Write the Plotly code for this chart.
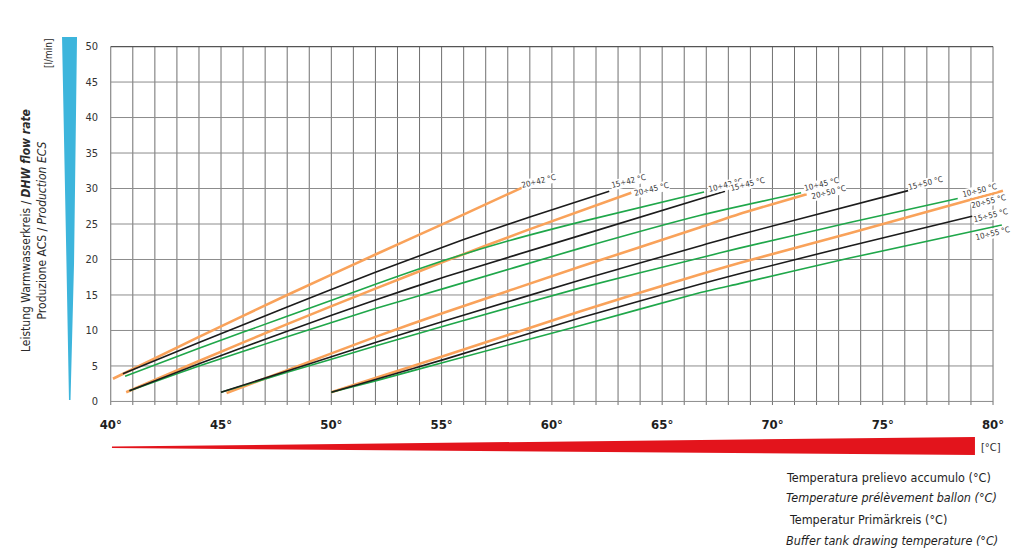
import plotly.graph_objects as go

# curve data (x = buffer tank temperature °C, y = l/min)
labels = ["20÷42 °C", "15÷42 °C", "10÷42 °C",
          "20÷45 °C", "15÷45 °C", "10÷45 °C",
          "20÷50 °C", "15÷50 °C", "10÷50 °C",
          "20÷55 °C", "15÷55 °C", "10÷55 °C"]
kinds = ["20", "15", "10"] * 4

x_20_42 = [40.1, 44, 48, 52, 55.2, 58.7]
y_20_42 = [3.2, 9.1, 15.0, 20.7, 25.2, 30.2]
x_15_42 = [40.55, 44, 48, 52, 56, 59, 62.6]
y_15_42 = [3.9, 8.3, 13.3, 18.2, 22.8, 26.0, 29.6]
x_10_42 = [40.65, 44, 48, 52, 55.2, 58, 61.3, 66.9]
y_10_42 = [3.55, 7.5, 12.0, 16.5, 19.95, 22.6, 25.3, 29.5]

x_20_45 = [40.7, 44, 48, 52, 55.2, 58.85, 63.6]
y_20_45 = [1.3, 5.7, 10.9, 15.9, 19.8, 24.1, 29.4]
x_15_45 = [40.85, 44, 48, 52, 55.2, 61.3, 67.85]
y_15_45 = [1.5, 5.3, 9.9, 14.3, 17.6, 23.4, 29.6]
x_10_45 = [40.85, 44, 48, 52, 55.2, 61.3, 66.7, 71.3]
y_10_45 = [1.5, 5.0, 9.1, 13.1, 16.0, 21.6, 26.2, 29.4]

x_20_50 = [45.25, 48, 52, 55.2, 61.3, 66.7, 68.5, 71.55]
y_20_50 = [1.2, 4.4, 9.1, 12.6, 19.0, 24.5, 26.4, 29.2]
x_15_50 = [45.0, 48, 52, 55.2, 61.3, 66.7, 68.5, 76.15]
y_15_50 = [1.3, 4.3, 8.3, 11.4, 17.1, 21.9, 23.5, 29.7]
x_10_50 = [45.0, 48, 52, 55.2, 61.3, 66.7, 68.5, 73.5, 78.4]
y_10_50 = [1.3, 4.1, 7.8, 10.7, 16.0, 20.2, 21.6, 25.2, 28.6]

x_20_55 = [50.0, 52, 55.2, 61.3, 66.7, 68.5, 73.5, 80.45]
y_20_55 = [1.3, 3.3, 6.5, 12.7, 17.9, 19.5, 23.7, 29.7]
x_15_55 = [50.0, 52, 55.2, 61.3, 66.7, 68.5, 73.5, 80.4]
y_15_55 = [1.3, 3.1, 6.0, 11.8, 16.5, 18.0, 21.9, 27.1]
x_10_55 = [50.0, 52, 55.2, 61.3, 66.7, 68.5, 73.5, 80.4]
y_10_55 = [1.3, 2.9, 5.6, 10.7, 15.3, 16.6, 20.2, 24.85]

xs = [x_20_42, x_15_42, x_10_42, x_20_45, x_15_45, x_10_45,
      x_20_50, x_15_50, x_10_50, x_20_55, x_15_55, x_10_55]
ys = [y_20_42, y_15_42, y_10_42, y_20_45, y_15_45, y_10_45,
      y_20_50, y_15_50, y_10_50, y_20_55, y_15_55, y_10_55]

x_ticks = [40, 45, 50, 55, 60, 65, 70, 75, 80]
x_ticktext = ["40°", "45°", "50°", "55°", "60°", "65°", "70°", "75°", "80°"]
y_ticks = [0, 5, 10, 15, 20, 25, 30, 35, 40, 45, 50]
x_grid = list(range(40, 81))

# style
colors = {"20": "#f9a25a", "15": "#1c1c1c", "10": "#1fa74a"}
widths = {"20": 2.6, "15": 1.6, "10": 1.6}
# label offsets (px) from the end of each curve
label_shift = [(15, 6), (19, 10), (21, 7), (20, 3), (22, 7), (20, 8),
               (22, 2), (17, 7), (22, 8), (-14, -11), (-11, -6), (-9, -8)]

FONT = "Liberation Sans Narrow, DejaVu Sans Condensed, Arial Narrow, sans-serif"

# the page body has an 8px margin, so the figure sits at (8, 8) in the window
OFF = 8
FW, FH = 1024 - 2 * OFF, 560 - 2 * OFF
L, R, T, B = 99, 6, 35, 147
W, H = FW - L - R, FH - T - B


def px(x):
    # window pixel -> paper coordinate
    return (x - OFF - L) / W


def py(y):
    return (FH - B - (y - OFF)) / H


fig = go.Figure()

order = [i for k in ("20", "10", "15") for i in range(12) if kinds[i] == k]
for i in order:
    k = kinds[i]
    fig.add_trace(go.Scatter(
        x=xs[i], y=ys[i], mode="lines", name=labels[i],
        line=dict(color=colors[k], width=widths[k], shape="spline", smoothing=0.6),
        showlegend=False, hoverinfo="skip"))

shapes = []
for g in x_grid:
    shapes.append(dict(type="line", xref="x", yref="y", x0=g, x1=g, y0=-0.6, y1=50,
                       line=dict(color="#707070", width=1), layer="below"))
for g in y_ticks:
    shapes.append(dict(type="line", xref="x", yref="y", x0=40, x1=80, y0=g, y1=g,
                       line=dict(color="#555555" if g == 50 else "#8c8c8c", width=1.3 if g == 50 else 1),
                       layer="below"))

# blue wedge on the left
blue = [(62, 37), (77, 37), (74, 263), (70.5, 400), (69, 400), (66.5, 263)]
shapes.append(dict(type="path", xref="paper", yref="paper",
                   path="M " + " L ".join(f"{px(a):.4f},{py(b):.4f}" for a, b in blue) + " Z",
                   fillcolor="#3db5dc", line=dict(width=0)))
# red wedge at the bottom
red = [(112, 446.5), (975, 437), (975, 455), (112, 448)]
shapes.append(dict(type="path", xref="paper", yref="paper",
                   path="M " + " L ".join(f"{px(a):.4f},{py(b):.4f}" for a, b in red) + " Z",
                   fillcolor="#e3141c", line=dict(width=0)))

annotations = []
for i in range(12):
    dx, dy = label_shift[i]
    annotations.append(dict(x=xs[i][-1], y=ys[i][-1], xref="x", yref="y", text=labels[i],
                            showarrow=False, textangle=-14, xshift=dx, yshift=dy,
                            xanchor="center", yanchor="middle",
                            font=dict(family=FONT, size=8, color="#333333"),
                            bgcolor="white", borderpad=0))

annotations.append(dict(x=px(34), y=py(231), xref="paper", yref="paper", showarrow=False,
                        textangle=-90, align="center", xanchor="center", yanchor="middle",
                        text="Leistung Warmwasserkreis / <b><i>DHW flow rate</i></b><br>"
                             "Produzione ACS / <i>Production ECS</i>",
                        font=dict(family=FONT, size=12, color="#2b2b2b")))
annotations.append(dict(x=px(48), y=py(53), xref="paper", yref="paper", showarrow=False,
                        textangle=-90, text="[l/min]", xanchor="center", yanchor="middle",
                        font=dict(family=FONT, size=10, color="#2b2b2b")))
annotations.append(dict(x=px(979), y=py(447), xref="paper", yref="paper", showarrow=False,
                        xanchor="left", yanchor="middle", text="[°C]",
                        font=dict(family=FONT, size=11, color="#2b2b2b")))

caption = ["Temperatura prelievo accumulo (°C)",
           "<i>Temperature prélèvement ballon (°C)</i>",
           "Temperatur Primärkreis (°C)",
           "<i>Buffer tank drawing temperature (°C)</i>"]
for j, (txt, yy) in enumerate(zip(caption, [477, 497, 519, 540])):
    annotations.append(dict(x=px(784 + (3 if j == 2 else 0)), y=py(yy), xref="paper", yref="paper",
                            showarrow=False, xanchor="left", yanchor="middle", text=txt,
                            font=dict(family=FONT, size=12.5, color="#1e1e1e")))

fig.update_layout(
    width=FW, height=FH,
    margin=dict(l=L, r=R, t=T, b=B),
    paper_bgcolor="white", plot_bgcolor="white",
    shapes=shapes, annotations=annotations,
    xaxis=dict(range=[39.83, 80.77], showgrid=False, zeroline=False, showline=False,
               automargin=False, tickvals=x_ticks, ticktext=x_ticktext, ticks="",
               ticklabelstandoff=10,
               tickfont=dict(family=FONT, size=13, color="#1e1e1e", weight="bold")),
    yaxis=dict(range=[-0.5, 50.5], showgrid=False, zeroline=False, showline=False,
               automargin=False, tickvals=y_ticks, ticks="", ticklabelstandoff=8,
               tickfont=dict(family=FONT, size=11, color="#333333")),
    showlegend=False,
)

fig.write_html("out.html")
